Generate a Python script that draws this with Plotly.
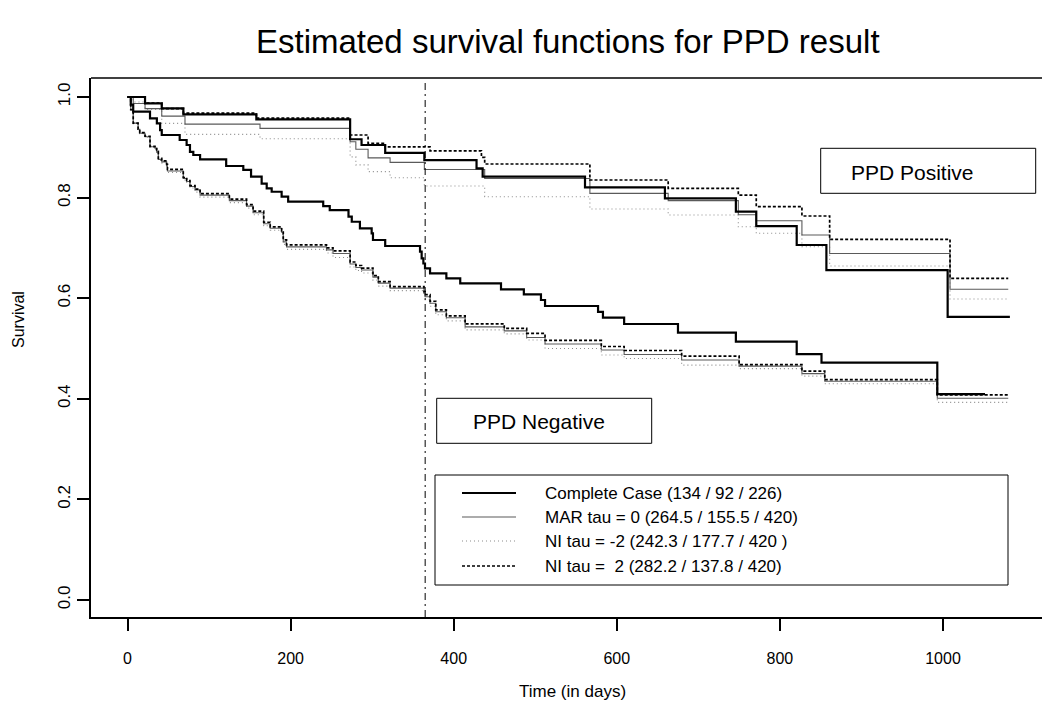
import plotly.graph_objects as go

# ---------------- data ----------------
# PPD Positive group
pos_cc_t = [0, 21.5, 42, 68.5, 158, 273, 287, 316, 364, 428, 435.5, 561, 659, 746, 771, 820.6, 857, 1005.7, 1082]
pos_cc_s = [1.0, 0.9875, 0.9775, 0.9656, 0.9556, 0.916, 0.9046, 0.889, 0.8747, 0.858, 0.8416, 0.8205, 0.7985, 0.772, 0.7435, 0.7058, 0.656, 0.563, 0.563]

pos_mar_t = [0, 7, 21.5, 42, 70.5, 162.5, 273, 280, 295, 322, 364, 438, 567, 663, 749, 771, 827, 861, 1008.6, 1080]
pos_mar_s = [1.0, 0.987, 0.977, 0.962, 0.946, 0.9377, 0.911, 0.896, 0.879, 0.870, 0.856, 0.838, 0.8085, 0.794, 0.766, 0.754, 0.7256, 0.689, 0.6177, 0.6177]

pos_nim2_t = [0, 7, 21.5, 42, 70.5, 162.5, 273, 280, 295, 322, 364, 438, 567, 663, 749, 771, 827, 861, 1008.6, 1080]
pos_nim2_s = [1.0, 0.99, 0.9755, 0.9476, 0.9258, 0.917, 0.881, 0.865, 0.8516, 0.8396, 0.823, 0.8018, 0.7773, 0.7654, 0.742, 0.729, 0.7024, 0.664, 0.5984, 0.5984]

pos_ni2_t = [0, 21.5, 42, 68.5, 158, 273, 295, 316, 371, 434, 438, 567, 663, 749, 771, 827, 861, 1008.6, 1080]
pos_ni2_s = [1.0, 0.988, 0.977, 0.968, 0.958, 0.9245, 0.908, 0.901, 0.893, 0.880, 0.8668, 0.835, 0.8185, 0.805, 0.782, 0.7634, 0.717, 0.6395, 0.6395]

# PPD Negative group
neg_cc_t = [0, 4, 7, 27.6, 36, 40, 42, 64, 72.5, 76.6, 80.7, 89, 121, 142, 151.5, 164.5, 170.7, 176.8, 189, 197,
            240, 248, 271, 275, 285, 299.4, 301, 316, 358.7, 360.7, 362.8, 364.8, 371, 391, 408, 458, 486, 507, 512,
            577, 583, 609, 675, 746, 820.6, 851, 993, 1051.5]
neg_cc_s = [1.0, 0.985, 0.971, 0.9576, 0.9476, 0.934, 0.9245, 0.9145, 0.9046, 0.891, 0.8847, 0.876, 0.8628, 0.855, 0.8416, 0.828, 0.8185, 0.8117, 0.8018, 0.7919,
            0.783, 0.7753, 0.762, 0.752, 0.739, 0.729, 0.7157, 0.7038, 0.6925, 0.679, 0.669, 0.6594, 0.6495, 0.6395, 0.6296, 0.6177, 0.6077, 0.5964, 0.5845,
            0.573, 0.5613, 0.5487, 0.5315, 0.5135, 0.489, 0.4718, 0.4095, 0.4095]

neg_t = [0, 4, 7, 13, 15, 21.5, 27.6, 33.7, 35.8, 37.8, 42, 48, 49, 68.4, 72.6, 76.6, 82.8, 89, 124.9, 146,
         154, 167, 175, 189, 191, 195, 244, 252, 273, 280, 287, 301, 307.6, 322, 363.6, 365, 371, 378, 391, 414,
         462, 489.5, 512, 581, 609, 679.5, 750, 827, 855, 993, 1080]
neg_mar_s = [1.0, 0.975, 0.948, 0.936, 0.928, 0.921, 0.901, 0.898, 0.891, 0.876, 0.871, 0.863, 0.853, 0.838, 0.832, 0.822, 0.815, 0.805, 0.794, 0.783,
             0.770, 0.748, 0.739, 0.731, 0.712, 0.702, 0.696, 0.689, 0.668, 0.661, 0.656, 0.642, 0.630, 0.620, 0.610, 0.603, 0.590, 0.573, 0.561, 0.543,
             0.535, 0.522, 0.509, 0.497, 0.488, 0.477, 0.465, 0.450, 0.435, 0.401, 0.401]
neg_ni2_s = [1.0, 0.975, 0.948, 0.936, 0.929, 0.922, 0.902, 0.899, 0.892, 0.878, 0.873, 0.866, 0.856, 0.840, 0.834, 0.824, 0.817, 0.808, 0.797, 0.786,
             0.773, 0.751, 0.742, 0.734, 0.716, 0.706, 0.700, 0.694, 0.672, 0.665, 0.660, 0.645, 0.633, 0.623, 0.613, 0.607, 0.594, 0.577, 0.565, 0.549,
             0.540, 0.530, 0.516, 0.504, 0.496, 0.485, 0.468, 0.455, 0.438, 0.408, 0.408]
neg_nim2_s = [1.0, 0.975, 0.947, 0.935, 0.927, 0.920, 0.900, 0.896, 0.889, 0.874, 0.869, 0.860, 0.850, 0.835, 0.829, 0.819, 0.811, 0.801, 0.790, 0.779,
              0.766, 0.744, 0.735, 0.727, 0.707, 0.697, 0.690, 0.681, 0.662, 0.655, 0.650, 0.636, 0.624, 0.615, 0.604, 0.597, 0.584, 0.567, 0.555, 0.537,
              0.529, 0.517, 0.500, 0.487, 0.480, 0.467, 0.460, 0.445, 0.430, 0.393, 0.393]

legend_labels = ["Complete Case (134 / 92 / 226)",
                 "MAR tau = 0 (264.5 / 155.5 / 420)",
                 "NI tau = -2 (242.3 / 177.7 / 420 )",
                 "NI tau =  2 (282.2 / 137.8 / 420)"]
x_ticks = [0, 200, 400, 600, 800, 1000]
y_ticks = [0.0, 0.2, 0.4, 0.6, 0.8, 1.0]
cutoff_day = 365

# ---------------- styles ----------------
FONT = "Liberation Sans, Arial, sans-serif"
st_cc = dict(color="black", width=2.2)
st_mar = dict(color="#5a5a5a", width=1.1)
st_nim2 = dict(color="#8c8c8c", width=1.1, dash="1px,3px")
st_ni2 = dict(color="black", width=1.7, dash="3px,2px")

fig = go.Figure()

def add(t, s, style):
    fig.add_trace(go.Scatter(x=t, y=s, mode="lines", line=dict(shape="hv", **style),
                             showlegend=False, hoverinfo="skip"))

add(pos_nim2_t, pos_nim2_s, st_nim2)
add(neg_t, neg_nim2_s, st_nim2)
add(pos_mar_t, pos_mar_s, st_mar)
add(neg_t, neg_mar_s, st_mar)
add(pos_ni2_t, pos_ni2_s, st_ni2)
add(neg_t, neg_ni2_s, st_ni2)
add(pos_cc_t, pos_cc_s, st_cc)
add(neg_cc_t, neg_cc_s, st_cc)

# ---------------- layout geometry ----------------
# the page body has an 8px margin, so the figure is drawn 8px smaller and all
# target page positions are shifted by OFF
OFF = 8
W, H = 1050 - OFF, 705 - OFF
L, R, T, B = 91 - OFF, 0, 78 - OFF, 705 - 617
pw, ph = W - L - R, H - T - B

def px(xp):
    return (xp - OFF - L) / pw

def py(yp):
    return (H - B - (yp - OFF)) / ph

shapes = []
annotations = []

# vertical reference line at one year
shapes.append(dict(type="line", xref="x", yref="paper", x0=cutoff_day, x1=cutoff_day, y0=0, y1=0.992,
                   line=dict(color="black", width=1, dash="7px,4px,2px,4px")))
# top border of plot box
shapes.append(dict(type="line", xref="paper", yref="paper", x0=0, x1=1, y0=1, y1=1,
                   line=dict(color="black", width=1.5)))

# group label boxes
def label_box(x0, x1, y0, y1, text, tx, ty):
    shapes.append(dict(type="rect", xref="paper", yref="paper", x0=px(x0), x1=px(x1), y0=py(y1), y1=py(y0),
                       line=dict(color="black", width=1), fillcolor="white", layer="above"))
    annotations.append(dict(xref="paper", yref="paper", x=px(tx), y=py(ty), text=text, showarrow=False,
                            xanchor="left", yanchor="middle", font=dict(family=FONT, size=21, color="black")))

label_box(820.7, 1035.7, 148.3, 193.3, "PPD Positive", 849, 172)
label_box(436.7, 651.7, 398.3, 443.3, "PPD Negative", 470.7, 421)

# legend box (manual)
shapes.append(dict(type="rect", xref="paper", yref="paper", x0=px(435), x1=px(1008), y0=py(585), y1=py(475),
                   line=dict(color="black", width=1), fillcolor="white", layer="above"))
row_y = [493, 517, 541, 566]
for lab, ry, st in zip(legend_labels, row_y, [st_cc, st_mar, st_nim2, st_ni2]):
    shapes.append(dict(type="line", xref="paper", yref="paper", x0=px(462), x1=px(516), y0=py(ry), y1=py(ry),
                       line=st, layer="above"))
    annotations.append(dict(xref="paper", yref="paper", x=px(543), y=py(ry), text=lab, showarrow=False,
                            xanchor="left", yanchor="middle", font=dict(family=FONT, size=17, color="black")))

# axis titles
annotations.append(dict(xref="paper", yref="paper", x=px(572), y=py(691), text="Time (in days)", showarrow=False,
                        xanchor="center", yanchor="middle", font=dict(family=FONT, size=17, color="black")))
annotations.append(dict(xref="paper", yref="paper", x=px(18), y=py(320), text="Survival", showarrow=False,
                        textangle=-90, xanchor="center", yanchor="middle", font=dict(family=FONT, size=16, color="black")))
# title
annotations.append(dict(xref="paper", yref="paper", x=px(568), y=py(42), text="Estimated survival functions for PPD result",
                        showarrow=False, xanchor="center", yanchor="middle", font=dict(family=FONT, size=33, color="black")))

fig.update_layout(
    width=W, height=H,
    margin=dict(l=L, r=R, t=T, b=B, pad=0),
    paper_bgcolor="white", plot_bgcolor="white",
    showlegend=False,
    shapes=shapes, annotations=annotations,
    font=dict(family=FONT, color="black"),
    xaxis=dict(range=[-44.76, 1131.2], tickvals=x_ticks, ticktext=[str(v) for v in x_ticks],
               showgrid=False, zeroline=False, showline=True, linecolor="black", linewidth=1.5,
               ticks="outside", ticklen=12, tickwidth=1.5, tickcolor="black", ticklabelstandoff=14,
               tickfont=dict(family=FONT, size=16, color="black")),
    yaxis=dict(range=[-0.0338, 1.0378], tickvals=y_ticks, ticktext=[f"{v:.1f}" for v in y_ticks],
               showgrid=False, zeroline=False, showline=True, linecolor="black", linewidth=1.5,
               ticks="outside", ticklen=12, tickwidth=1.5, tickcolor="black", tickangle=-90,
               tickfont=dict(family=FONT, size=17, color="black")),
)

fig.write_html("out.html")
